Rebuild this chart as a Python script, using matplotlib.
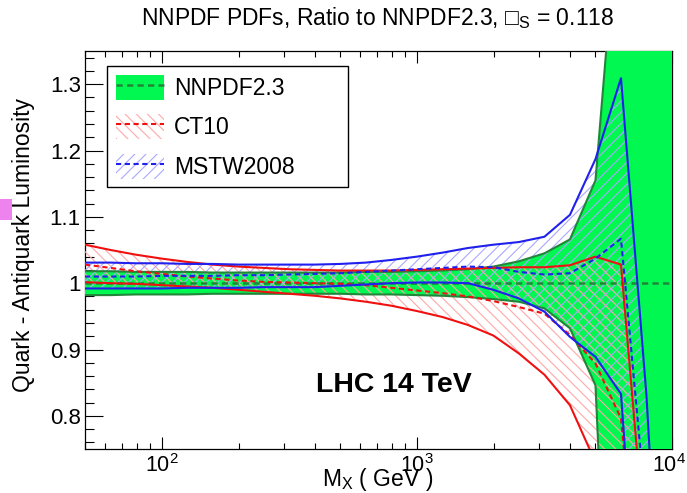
import matplotlib
matplotlib.use('Agg')
import matplotlib.pyplot as plt
import matplotlib.transforms as mtransforms
from matplotlib.patches import Patch, Rectangle
from matplotlib.lines import Line2D
from matplotlib.ticker import FixedLocator, MultipleLocator, LogLocator, NullFormatter

plt.rcParams['font.family'] = ['Liberation Sans', 'DejaVu Sans']
plt.rcParams['mathtext.fontset'] = 'custom'
plt.rcParams['mathtext.rm'] = 'Liberation Sans'
plt.rcParams['mathtext.it'] = 'Liberation Sans:italic'
plt.rcParams['mathtext.bf'] = 'Liberation Sans:bold'
plt.rcParams['hatch.linewidth'] = 0.8

# ---- data ----
mass = [50, 63, 79, 100, 126, 158, 200, 251, 316, 398, 501, 631, 794, 1000,
        1259, 1585, 1995, 2512, 3162, 3981, 5012, 6310, 7943, 10000]

nnpdf_up = [1.018, 1.018, 1.017, 1.017, 1.017, 1.016, 1.016, 1.016, 1.016, 1.016, 1.016, 1.017,
            1.017, 1.018, 1.019, 1.021, 1.025, 1.033, 1.045, 1.066, 1.155, 1.62, 2.0, 2.0]
nnpdf_lo = [0.982, 0.982, 0.983, 0.983, 0.983, 0.984, 0.984, 0.984, 0.984, 0.984, 0.984, 0.983,
            0.983, 0.982, 0.981, 0.979, 0.976, 0.972, 0.962, 0.932, 0.846, 0.0, 0.0, 0.0]
nnpdf_c = [1.0] * 24

ct10_up = [1.058, 1.050, 1.043, 1.037, 1.032, 1.028, 1.025, 1.023, 1.021, 1.020, 1.019, 1.019,
           1.019, 1.020, 1.021, 1.022, 1.023, 1.024, 1.024, 1.027, 1.040, 1.028, 0.58, 0.2]
ct10_c = [1.028, 1.023, 1.018, 1.014, 1.010, 1.007, 1.004, 1.002, 1.001, 1.000, 0.999, 0.997,
          0.993, 0.989, 0.985, 0.980, 0.973, 0.964, 0.954, 0.922, 0.879, 0.796, 0.40, 0.2]
ct10_lo = [1.0015, 1.000, 0.999, 0.997, 0.995, 0.993, 0.990, 0.987, 0.984, 0.981, 0.977, 0.972,
           0.966, 0.958, 0.949, 0.937, 0.921, 0.894, 0.862, 0.816, 0.730, 0.5, 0.3, 0.2]

mstw_up = [1.031, 1.031, 1.030, 1.030, 1.029, 1.029, 1.028, 1.028, 1.028, 1.028, 1.029, 1.031,
           1.035, 1.040, 1.046, 1.053, 1.058, 1.062, 1.070, 1.103, 1.187, 1.309, 0.83, 0.15]
mstw_c = [1.010, 1.010, 1.010, 1.011, 1.011, 1.011, 1.012, 1.012, 1.013, 1.014, 1.015, 1.017,
          1.019, 1.021, 1.023, 1.025, 1.024, 1.017, 1.013, 1.015, 1.037, 1.067, 0.65, 0.2]
mstw_lo = [0.992, 0.992, 0.992, 0.992, 0.993, 0.993, 0.993, 0.994, 0.994, 0.994, 0.996, 0.998,
           1.000, 1.001, 1.001, 1.000, 0.990, 0.977, 0.957, 0.919, 0.889, 0.833, 0.30, 0.1]

labels = ['NNPDF2.3', 'CT10', 'MSTW2008']
yticks = [0.8, 0.9, 1.0, 1.1, 1.2, 1.3]
ytick_labels = ['0.8', '0.9', '1', '1.1', '1.2', '1.3']
xticks = [100, 1000, 10000]
xtick_labels = [r'$\mathregular{10^{2}}$', r'$\mathregular{10^{3}}$', r'$\mathregular{10^{4}}$']

# ---- styles ----
GREEN = '#00f850'
DKGREEN = '#23853a'
RED = '#f01010'
BLUE = '#2020ee'
PINK = '#ffa8a8'
LBLUE = '#a8a8ff'

W, H = 687, 493
fig = plt.figure(figsize=(W / 100, H / 100), dpi=100)
ax = fig.add_axes([85 / W, 1 - 449 / H, (672 - 85) / W, (449 - 51) / H])

ax.fill_between(mass, nnpdf_lo, nnpdf_up, facecolor=GREEN, edgecolor='none', zorder=1)
ax.fill_between(mass, ct10_lo, ct10_up, facecolor='none', edgecolor=PINK, hatch='\\\\\\',
                linewidth=0, zorder=1.5)
ax.fill_between(mass, mstw_lo, mstw_up, facecolor='none', edgecolor=LBLUE, hatch='///',
                linewidth=0, zorder=1.6)

ax.plot(mass, nnpdf_up, color=DKGREEN, lw=1.5, zorder=2)
ax.plot(mass, nnpdf_lo, color=DKGREEN, lw=1.5, zorder=2)
ax.plot(mass, nnpdf_c, color=DKGREEN, lw=1.8, ls=(0, (2.5, 1.7)), zorder=2.2)

for ys, ls in ((ct10_up, '-'), (ct10_lo, '-'), (ct10_c, (0, (2.5, 1.7)))):
    ax.plot(mass, ys, color=RED, lw=1.5, ls=ls, zorder=3)
for ys, ls in ((mstw_up, '-'), (mstw_lo, '-'), (mstw_c, (0, (2.5, 1.7)))):
    ax.plot(mass, ys, color=BLUE, lw=1.5, ls=ls, zorder=3.2)

ax.set_xscale('log')
ax.set_xlim(50, 10000)
ax.set_ylim(0.75, 1.35)
ax.set_axisbelow(True)

ax.xaxis.set_major_locator(FixedLocator(xticks))
ax.set_xticklabels(xtick_labels)
ax.xaxis.set_minor_locator(LogLocator(base=10, subs=[2, 3, 4, 5, 6, 7, 8, 9]))
ax.xaxis.set_minor_formatter(NullFormatter())
ax.yaxis.set_major_locator(FixedLocator(yticks))
ax.set_yticklabels(ytick_labels)
ax.yaxis.set_minor_locator(MultipleLocator(0.02))

ax.tick_params(axis='x', which='both', direction='in', top=True, bottom=True, width=0.8,
               labelsize=15.5, pad=4)
ax.tick_params(axis='x', which='major', length=8.6)
ax.tick_params(axis='x', which='minor', length=4.3)
ax.tick_params(axis='y', which='both', direction='in', left=True, right=False, width=0.8,
               labelsize=16, pad=3)
ax.tick_params(axis='y', which='major', length=12.7)
ax.tick_params(axis='y', which='minor', length=6.5)
for sp in ax.spines.values():
    sp.set_linewidth(0.9)
    sp.set_zorder(0.6)

# nudge the last x tick label slightly left so it stays inside the canvas
last = ax.get_xticklabels()[-1]
last.set_transform(last.get_transform() +
                   mtransforms.ScaledTranslation(-3 / 100, 0, fig.dpi_scale_trans))

ax.text(403, 0.836, 'LHC 14 TeV', fontsize=20.5, fontweight='bold', ha='left', va='baseline',
        zorder=5)

h_nn = (Patch(facecolor=GREEN, edgecolor='none'),
        Line2D([], [], color=DKGREEN, lw=1.8, ls=(0, (2.5, 1.7))))
h_ct = (Patch(facecolor='none', edgecolor=PINK, hatch='\\\\\\', linewidth=0),
        Line2D([], [], color=RED, lw=1.5, ls=(0, (2.5, 1.7))))
h_ms = (Patch(facecolor='none', edgecolor=LBLUE, hatch='///', linewidth=0),
        Line2D([], [], color=BLUE, lw=1.5, ls=(0, (2.5, 1.7))))
leg = ax.legend([h_nn, h_ct, h_ms], labels, loc='upper left',
                bbox_to_anchor=(0.0375, 0.663, 0.4105, 0.299), mode='expand',
                borderaxespad=0, fontsize=16.5, frameon=True, fancybox=False,
                edgecolor='black', framealpha=1, handlelength=2.1, handleheight=1.3,
                handletextpad=0.45, labelspacing=0.62, borderpad=0.38)
leg.get_frame().set_linewidth(1.0)
leg.set_zorder(6)

fig.text(378 / W, 1 - 25 / H, 'NNPDF PDFs, Ratio to NNPDF2.3, \u25a1$_{\\mathregular{S}}$ = 0.118',
         fontsize=16.5, ha='center', va='baseline')
fig.text(24 / W, 1 - 245 / H, 'Quark - Antiquark Luminosity', fontsize=16.5, rotation=90,
         ha='center', va='center')
fig.text(378 / W, 1 - 486 / H, 'M$_{\\mathregular{X}}$ ( GeV )', fontsize=16.5,
         ha='center', va='baseline')

fig.patches.append(Rectangle((0, 1 - 220 / H), 12 / W, 21 / H, transform=fig.transFigure,
                             facecolor='#ee82ee', edgecolor='none'))

fig.savefig('out.png', dpi=100)
